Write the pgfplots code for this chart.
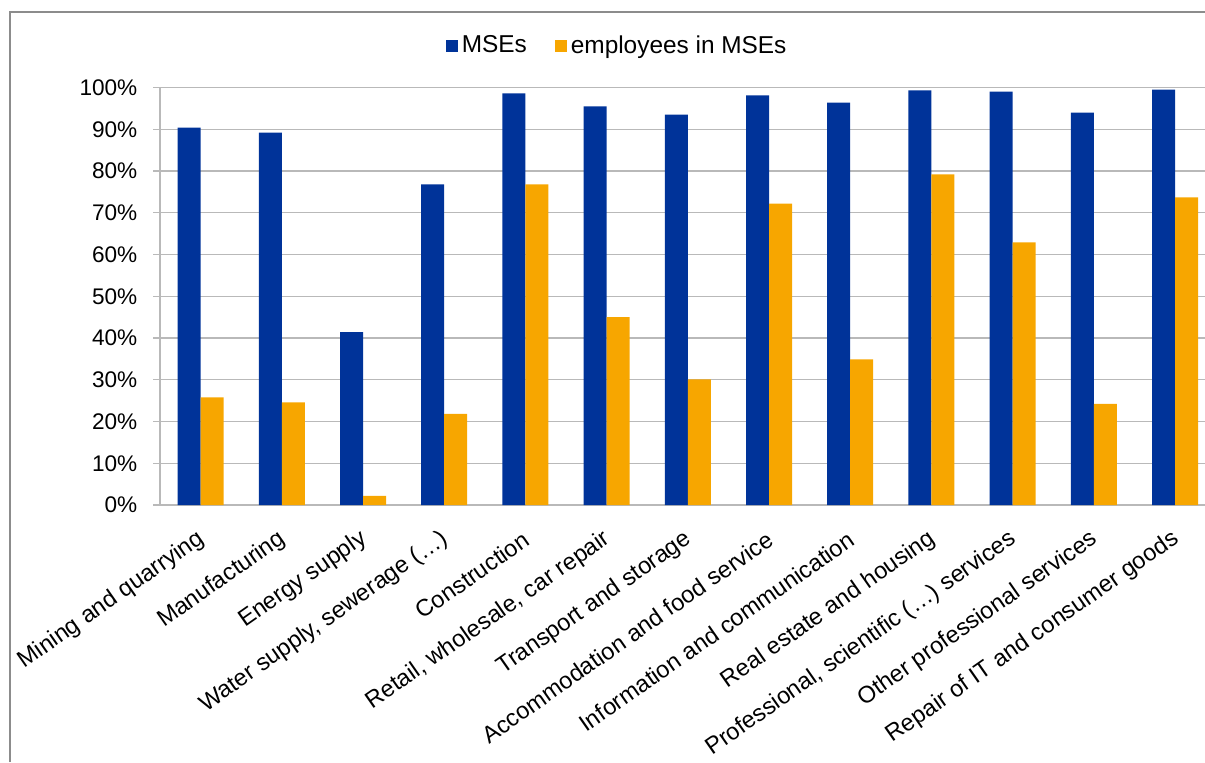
\documentclass[border=0pt]{standalone}
\usepackage{pgfplots}
\pgfplotsset{compat=1.18}
\usepackage{fontspec}
\setmainfont{Liberation Sans}
\definecolor{mseblue}{RGB}{0,51,153}
\definecolor{empor}{RGB}{247,166,0}
\definecolor{gridg}{RGB}{185,185,185}
\definecolor{frameg}{RGB}{140,140,140}
\begin{document}
\begin{tikzpicture}[x=1pt,y=1pt]
\useasboundingbox (0,0) rectangle (602.5,381);
\draw[frameg, line width=1pt] (5,0) -- (5,375) -- (610,375);
\begin{axis}[
  at={(80pt,128.5pt)}, anchor=south west,
  scale only axis,
  width=527.8pt, height=208.75pt,
  xmin=-0.5, xmax=12.5, ymin=0, ymax=100,
  ybar=0pt, bar width=11.5pt,
  axis x line*=bottom, axis y line*=left,
  axis line style={draw=gridg, line width=0.6pt, -},
  ymajorgrids, grid style={draw=gridg, line width=0.6pt},
  tick align=outside,
  major tick length=3.3pt,
  ytick={0,10,20,30,40,50,60,70,80,90,100},
  yticklabels={0\%,10\%,20\%,30\%,40\%,50\%,60\%,70\%,80\%,90\%,100\%},
  y tick style={draw=gridg, line width=0.6pt},
  xtick={0,1,2,3,4,5,6,7,8,9,10,11,12},
  x tick style={draw=none},
  xticklabels={Mining and quarrying, Manufacturing, Energy supply, {Water supply, sewerage (\ldots)}, Construction, {Retail, wholesale, car repair}, Transport and storage, Accommodation and food service, Information and communication, Real estate and housing, {Professional, scientific (\ldots) services}, Other professional services, Repair of IT and consumer goods},
  xticklabel style={xshift=3.5pt, yshift=-10.7pt, rotate=35, anchor=east, font=\fontsize{11.8}{13}\selectfont},
  yticklabel style={font=\fontsize{11.3}{13}\selectfont, xshift=-4.5pt},
  extra x ticks={-0.5,0.5,1.5,2.5,3.5,4.5,5.5,6.5,7.5,8.5,9.5,10.5,11.5,12.5},
  extra x tick labels={},
  extra x tick style={grid=none, tick style={draw=gridg, line width=0.6pt}},
  legend style={at={(0.434,1.1)}, anchor=center, draw=none, fill=none,
    legend columns=2, font=\fontsize{12.2}{13}\selectfont,
    /tikz/every even column/.append style={column sep=12pt}},
  legend image code/.code={\fill[#1] (0pt,-3pt) rectangle (6pt,3pt);},
  clip=false,
]
\addplot[fill=mseblue, draw=none] coordinates {
(0,90.4) (1,89.2) (2,41.4) (3,76.8) (4,98.6) (5,95.5) (6,93.5) (7,98.1) (8,96.4) (9,99.3) (10,99.0) (11,94.0) (12,99.5)};
\addlegendentry{MSEs}
\addplot[fill=empor, draw=none] coordinates {
(0,25.8) (1,24.6) (2,2.2) (3,21.8) (4,76.8) (5,45.0) (6,30.1) (7,72.2) (8,34.9) (9,79.2) (10,62.9) (11,24.2) (12,73.7)};
\addlegendentry{employees in MSEs}
\end{axis}
\end{tikzpicture}
\end{document}
